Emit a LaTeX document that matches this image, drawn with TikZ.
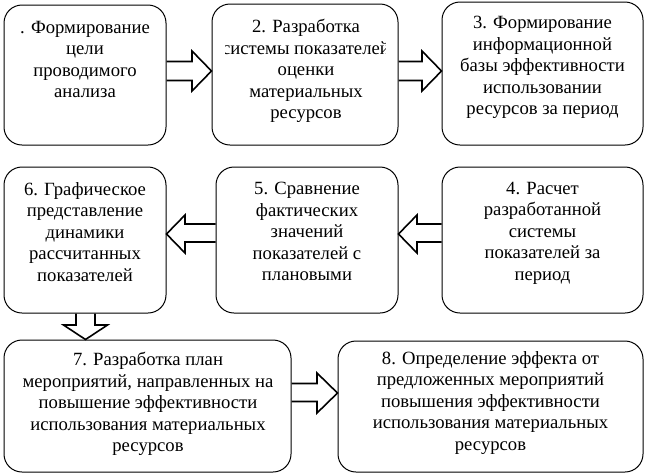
\documentclass[tikz,border=0pt]{standalone}
\usepackage{fontspec}
\setmainfont{Liberation Serif}
\newfontfamily\boxfont{Liberation Serif}
\tikzset{
  box/.style={draw, line width=1pt, rounded corners=18pt, inner sep=0pt},
  txt/.style={anchor=north, align=center, inner sep=0pt, font=\boxfont\fontsize{18.67}{21.5}\selectfont},
  blk/.style={draw, line width=1.6pt, line join=miter}
}
\begin{document}
\begin{tikzpicture}[x=1pt,y=-1pt]
\useasboundingbox (0,0) rectangle (645,475);
% boxes
\node[box, minimum width=162, minimum height=140] (b1) at (85,75) {};
\node[box, minimum width=186, minimum height=141] (b2) at (305,74.5) {};
\node[box, minimum width=201, minimum height=143] (b3) at (542.5,73.5) {};
\node[box, minimum width=201, minimum height=146] (b4) at (542.5,240) {};
\node[box, minimum width=182, minimum height=146] (b5) at (307,240) {};
\node[box, minimum width=162, minimum height=146] (b6) at (85,240) {};
\node[box, minimum width=287, minimum height=132] (b7) at (147.5,406) {};
\node[box, minimum width=305, minimum height=131] (b8) at (490.5,406.5) {};
% texts
\node[txt] (t1) at (85,21) {. Формирование\\цели\\проводимого\\анализа};
\begin{scope}
\clip (225,4.5) rectangle (385,144.5);
\node[txt] (t2) at (306,19) {2. Разработка\\системы показателей\\оценки\\материальных\\ресурсов};
\end{scope}
\node[txt] (t3) at (542.5,16) {3. Формирование\\информационной\\базы эффективности\\использовании\\ресурсов за период};
\node[txt] (t4) at (542.5,182) {4. Расчет\\разработанной\\системы\\показателей за\\период};
\node[txt] (t5) at (307,182) {5. Сравнение\\фактических\\значений\\показателей с\\плановыми};
\node[txt] (t6) at (85,182) {6. Графическое\\представление\\динамики\\рассчитанных\\показателей};
\node[txt] (t7) at (148,352) {7. Разработка план\\мероприятий, направленных на\\повышение эффективности\\использования материальных\\ресурсов};
\node[txt] (t8) at (490.5,351) {8. Определение эффекта от\\предложенных мероприятий\\повышения эффективности\\использования материальных\\ресурсов};
% block arrows (from box to box)
\draw[blk] (b1.east |- 0,61.5) -- (192,61.5) -- (192,51) -- (b2.west |- 0,71)
  -- (192,91) -- (192,80.5) -- (b1.east |- 0,80.5);
\draw[blk] (b2.east |- 0,61.5) -- (422,61.5) -- (422,51) -- (b3.west |- 0,71)
  -- (422,91) -- (422,80.5) -- (b2.east |- 0,80.5);
\draw[blk] (b4.west |- 0,224) -- (417,224) -- (417,215) -- (b5.east |- 0,234)
  -- (417,253) -- (417,242) -- (b4.west |- 0,242);
\draw[blk] (b5.west |- 0,224) -- (185,224) -- (185,215) -- (b6.east |- 0,234)
  -- (185,253) -- (185,242) -- (b5.west |- 0,242);
\draw[blk] (b6.south -| 76,0) -- (76,325) -- (63.5,325) -- (b7.north -| 85.5,0)
  -- (107.5,325) -- (95,325) -- (b6.south -| 95,0);
\draw[blk] (b7.east |- 0,383.5) -- (317,383.5) -- (317,373) -- (b8.west |- 0,393)
  -- (317,413) -- (317,401.5) -- (b7.east |- 0,401.5);
\end{tikzpicture}
\end{document}
